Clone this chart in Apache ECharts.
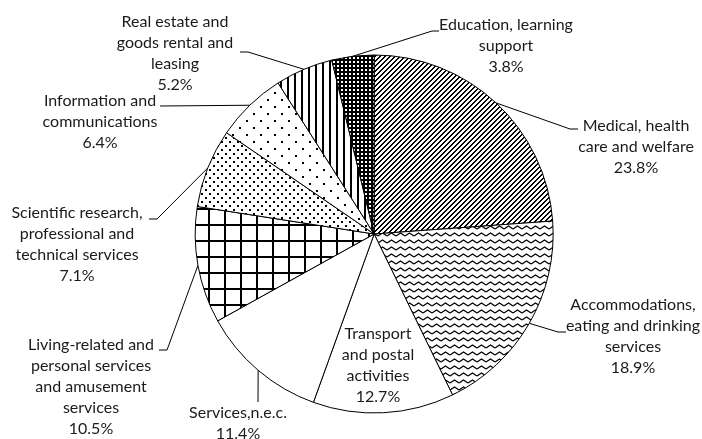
<!DOCTYPE html>
<html>
<head>
<meta charset="utf-8">
<script src="https://cdn.jsdelivr.net/npm/echarts@6/dist/echarts.min.js"></script>
<style>
html, body { margin: 0; padding: 0; background: #fff; }
#chart { width: 702px; height: 439px; }
</style>
</head>
<body>
<div id="chart"></div>
<script>
// slices, clockwise from 12 o'clock
const categories = [
  'Medical, health\ncare and welfare',
  'Accommodations,\neating and drinking\nservices',
  'Transport\nand postal\nactivities',
  'Services,n.e.c.',
  'Living-related and\npersonal services\nand amusement\nservices',
  'Scientific research,\nprofessional and\ntechnical services',
  'Information and\ncommunications',
  'Real estate and\ngoods rental and\nleasing',
  'Education, learning\nsupport'
]
const shares = [23.8, 18.9, 12.7, 11.4, 10.5, 7.1, 6.4, 5.2, 3.8]
const fills = ['diag', 'wave', 'plain', 'plain', 'grid', 'dotsDense', 'dotsSparse', 'vert', 'check']

// where each label block sits (center x, top y) and where its leader bends / ends
const spots = [
  { x: 636, y: 115, bend: [570, 129], end: [578, 129] },
  { x: 633, y: 294, bend: [558, 332], end: [566, 332] },
  { x: 378, y: 323 },
  { x: 238, y: 402, bend: [258, 402], end: [258, 402] },
  { x: 91, y: 334, bend: [167, 350], end: [159, 350] },
  { x: 77, y: 202, bend: [157, 219], end: [149, 219] },
  { x: 100, y: 90, bend: [160, 106], end: [160, 106] },
  { x: 175, y: 11, bend: [248, 52], end: [240, 52] },
  { x: 506, y: 14, bend: [432, 31], end: [439, 31] }
]

function tile (kind) {
  const c = document.createElement('canvas')
  const ctx = c.getContext('2d')
  const size = {
    diag: [5, 5], wave: [9, 7], grid: [16, 16], dotsDense: [8, 8],
    dotsSparse: [14, 14], vert: [7, 1], check: [4, 4], plain: [1, 1]
  }[kind]
  c.width = size[0]
  c.height = size[1]
  ctx.fillStyle = '#fff'
  ctx.fillRect(0, 0, c.width, c.height)
  ctx.fillStyle = '#000'
  ctx.strokeStyle = '#000'
  if (kind === 'diag') {
    for (let x = 0; x < 5; x++) {
      for (let y = 0; y < 5; y++) {
        if ((x + y) % 5 < 2) ctx.fillRect(x, y, 1, 1)
      }
    }
  } else if (kind === 'wave') {
    ctx.lineWidth = 1.3
    ctx.beginPath()
    ctx.moveTo(0, 5); ctx.lineTo(4.5, 2); ctx.lineTo(9, 5)
    ctx.stroke()
  } else if (kind === 'grid') {
    ctx.fillRect(0, 0, 2, 16)
    ctx.fillRect(0, 0, 16, 2)
  } else if (kind === 'dotsDense') {
    ctx.fillRect(1, 1, 2, 2)
    ctx.fillRect(5, 5, 2, 2)
  } else if (kind === 'dotsSparse') {
    ctx.fillRect(1, 1, 2, 2)
    ctx.fillRect(8, 8, 2, 2)
  } else if (kind === 'vert') {
    ctx.fillRect(0, 0, 2, 1)
  } else if (kind === 'check') {
    ctx.fillRect(0, 0, 4, 4)
    ctx.fillStyle = '#fff'
    ctx.fillRect(1, 1, 2, 2)
  }
  return c
}

const chart = echarts.init(document.getElementById('chart'))

const option = {
  animation: false,
  backgroundColor: '#fff',
  series: [{
    type: 'pie',
    center: ['53.3%', '53.3%'],
    radius: 179,
    startAngle: 90,
    clockwise: true,
    avoidLabelOverlap: false,
    itemStyle: { borderColor: '#000', borderWidth: 1 },
    emphasis: { disabled: true },
    label: {
      show: true,
      position: 'outside',
      fontFamily: 'Lato',
      fontSize: 16,
      lineHeight: 21,
      color: '#1a1a1a',
      formatter: p => p.name + '\n' + p.value.toFixed(1) + '%'
    },
    labelLine: {
      show: true,
      length: 8,
      length2: 8,
      lineStyle: { color: '#000', width: 1 }
    },
    labelLayout: function (params) {
      const s = spots[params.dataIndex]
      const out = { x: s.x, y: s.y, align: 'center', verticalAlign: 'top' }
      if (s.end && params.labelLinePoints) {
        out.labelLinePoints = [params.labelLinePoints[0], s.bend, s.end]
      }
      return out
    },
    data: categories.map((name, i) => ({
      name: name,
      value: shares[i],
      itemStyle: { color: { image: tile(fills[i]), repeat: 'repeat' } },
      labelLine: { show: i !== 2 }
    }))
  }]
}

chart.setOption(option)
window.addEventListener('resize', function () {
  chart.resize()
})
</script>
</body>
</html>
